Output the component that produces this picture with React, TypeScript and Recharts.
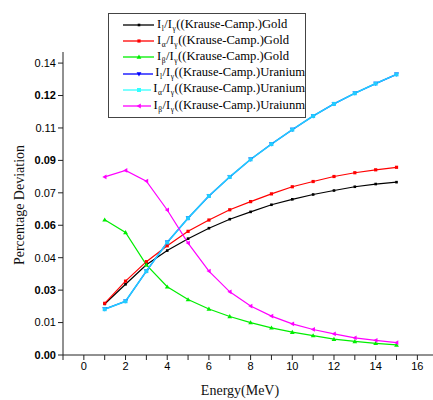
import React from "react";
import { LineChart, Line, XAxis, YAxis } from "recharts";

// energies (MeV)
const energy = [1, 2, 3, 4, 5, 6, 7, 8, 9, 10, 11, 12, 13, 14, 15];

// percentage deviation
const goldL = [0.0244, 0.0338, 0.0431, 0.0499, 0.0556, 0.0606, 0.0649, 0.0684, 0.0718, 0.0744, 0.0767, 0.0786, 0.0804, 0.0817, 0.0826];
const goldA = [0.0247, 0.0353, 0.0446, 0.0522, 0.0591, 0.0645, 0.0694, 0.0733, 0.077, 0.0804, 0.0829, 0.0853, 0.0871, 0.0885, 0.0897];
const goldB = [0.0646, 0.0586, 0.0431, 0.0326, 0.0265, 0.022, 0.0184, 0.0155, 0.013, 0.0109, 0.0093, 0.0076, 0.0065, 0.0056, 0.0048];
const uranL = [0.0219, 0.0257, 0.0401, 0.0538, 0.0654, 0.076, 0.0851, 0.0935, 0.1008, 0.1077, 0.1142, 0.12, 0.1251, 0.1297, 0.1341];
const uranA = [0.0219, 0.0257, 0.0401, 0.0538, 0.0654, 0.076, 0.0851, 0.0935, 0.1008, 0.1077, 0.1142, 0.12, 0.1251, 0.1297, 0.1341];
const uranB = [0.0851, 0.0882, 0.0831, 0.0693, 0.0535, 0.0401, 0.0302, 0.0234, 0.0186, 0.0149, 0.0122, 0.0101, 0.0082, 0.007, 0.0059];

// y ticks as printed on the original axis
const yTicks = [0, 0.0155, 0.031, 0.0465, 0.062, 0.0775, 0.093, 0.1085, 0.124, 0.1395];
const yLabels = ["0.00", "0.01", "0.03", "0.04", "0.06", "0.07", "0.09", "0.11", "0.12", "0.14"];
const xTicks = [-1, 0, 1, 2, 3, 4, 5, 6, 7, 8, 9, 10, 11, 12, 13, 14, 15, 16];

const seriesNames = ["Gold", "Gold", "Gold", "Uranium", "Uranium", "Uraiunm"];
const subs = ["l", "α", "β", "l", "α", "β"];

const data = energy.map((e, i) => ({
  energy: e,
  goldL: goldL[i],
  goldA: goldA[i],
  goldB: goldB[i],
  uranL: uranL[i],
  uranA: uranA[i],
  uranB: uranB[i],
}));

const series = [
  { key: "goldL", color: "#000000", legend: "#000000", shape: "square", size: 2.6 },
  { key: "goldA", color: "#ff0000", legend: "#ff0000", shape: "square", size: 3.2 },
  { key: "goldB", color: "#00ee00", legend: "#00ee00", shape: "up", size: 4 },
  { key: "uranL", color: "#0000ff", legend: "#0000ff", shape: "down", size: 4 },
  { key: "uranA", color: "#22ccff", legend: "#33ffff", shape: "square", size: 4 },
  { key: "uranB", color: "#ff00ff", legend: "#ff00ff", shape: "left", size: 4 },
];

function marker(shape: string, cx: number, cy: number, s: number, color: string, k?: string) {
  if (shape === "square") {
    return <rect key={k} x={cx - s / 2} y={cy - s / 2} width={s} height={s} fill={color} />;
  }
  let pts = "";
  if (shape === "up") pts = `${cx},${cy - s * 0.6} ${cx - s * 0.6},${cy + s * 0.45} ${cx + s * 0.6},${cy + s * 0.45}`;
  if (shape === "down") pts = `${cx},${cy + s * 0.6} ${cx - s * 0.6},${cy - s * 0.45} ${cx + s * 0.6},${cy - s * 0.45}`;
  if (shape === "left") pts = `${cx - s * 0.6},${cy} ${cx + s * 0.45},${cy - s * 0.6} ${cx + s * 0.45},${cy + s * 0.6}`;
  return <polygon key={k} points={pts} fill={color} />;
}

const serif = "'Liberation Serif', 'Times New Roman', serif";
const sans = "'Liberation Sans', Arial, sans-serif";

// the original prints every other y label in a heavier weight
function YTick(props: any) {
  const { x, y, index } = props;
  return (
    <text x={x} y={y} dy="0.35em" textAnchor="end" fontFamily={sans} fontSize={11}
      fontWeight={index % 2 === 0 ? 700 : 400} fill="#000">
      {yLabels[index]}
    </text>
  );
}

function AxisTitles() {
  return (
    <svg width={433} height={400} style={{ position: "absolute", left: 0, top: 0, pointerEvents: "none" }}>
      <text x={21} y={205} transform="rotate(-90 21 205)" textAnchor="middle" dominantBaseline="middle"
        fontFamily={serif} fontSize={14} fontWeight={400} fill="#111">
        Percentage Deviation
      </text>
      <text x={240} y={395} textAnchor="middle" fontFamily={serif} fontSize={14} fontWeight={400} fill="#111">
        Energy(MeV)
      </text>
    </svg>
  );
}

const subStyle = { fontSize: 7.5, verticalAlign: -3, marginLeft: 0.5, marginRight: 0.5, lineHeight: "8px" };

function LegendBox() {
  return (
    <div style={{
      position: "absolute", left: 108, top: 13, width: 198, height: 105,
      border: "1px solid #444", background: "#fff", boxSizing: "border-box",
      paddingTop: 3, fontFamily: serif, fontSize: 12.6, color: "#000",
    }}>
      {series.map((s, i) => (
        <div key={s.key} style={{ height: 16.2, display: "flex", alignItems: "center", whiteSpace: "nowrap" }}>
          <svg width={32} height={10} style={{ marginLeft: 14, marginRight: 2 }}>
            <line x1={0} y1={5} x2={31} y2={5} stroke={s.legend} strokeWidth={1.3} />
            {marker(s.shape, 16, 5, s.size, s.legend)}
          </svg>
          <span style={{ lineHeight: "13px" }}>
            <span>I</span>
            <sub style={subStyle}>{subs[i]}</sub>
            <span>/I</span>
            <sub style={subStyle}>γ</sub>
            <span>((Krause-Camp.){seriesNames[i]}</span>
          </span>
        </div>
      ))}
    </div>
  );
}

export default function App() {
  return (
    <div style={{ position: "absolute", left: 0, top: 0, width: 433, height: 400, background: "#fff" }}>
      <LineChart width={433} height={400} data={data} margin={{ top: 52, right: 0, bottom: 0, left: 0 }}>
        <XAxis
          dataKey="energy"
          type="number"
          domain={[-1, 16.75]}
          ticks={xTicks}
          interval={0}
          allowDataOverflow
          height={45}
          tickSize={5}
          stroke="#222"
          tick={{ fontFamily: sans, fontSize: 11, fill: "#000" }}
          tickFormatter={(v: number) => (v >= 0 && v % 2 === 0 ? String(v) : "")}
        />
        <YAxis
          type="number"
          domain={[0, 0.1448]}
          ticks={yTicks}
          interval={0}
          allowDataOverflow
          width={63}
          tickSize={5}
          stroke="#222"
          tick={<YTick />}
        />
        {series.map((s) => (
          <Line
            key={s.key}
            dataKey={s.key}
            stroke={s.color}
            strokeWidth={s.key === "uranA" ? 1.6 : 1.2}
            isAnimationActive={false}
            dot={(p: any) => marker(s.shape, p.cx, p.cy, s.size, s.color, `${s.key}-${p.index}`)}
            activeDot={false}
          />
        ))}
      </LineChart>
      <AxisTitles />
      <LegendBox />
    </div>
  );
}
